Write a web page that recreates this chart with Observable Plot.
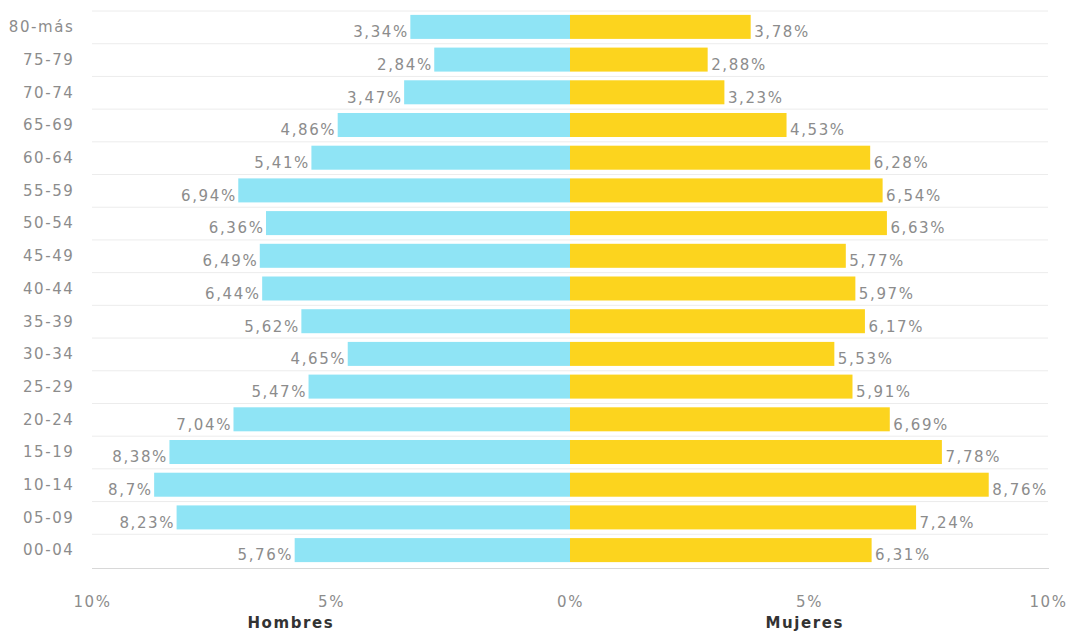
<!DOCTYPE html>
<html>
<head>
<meta charset="utf-8">
<script src="https://cdn.jsdelivr.net/npm/d3@7"></script>
<script src="https://cdn.jsdelivr.net/npm/@observablehq/plot@0.6"></script>
<style>
  html, body { margin: 0; padding: 0; background: #fff; }
</style>
</head>
<body>
<div id="chart"></div>
<script>
const ages = ["80-más","75-79","70-74","65-69","60-64","55-59","50-54","45-49","40-44","35-39","30-34","25-29","20-24","15-19","10-14","05-09","00-04"];
const hombres = [3.34, 2.84, 3.47, 4.86, 5.41, 6.94, 6.36, 6.49, 6.44, 5.62, 4.65, 5.47, 7.04, 8.38, 8.7, 8.23, 5.76];
const mujeres = [3.78, 2.88, 3.23, 4.53, 6.28, 6.54, 6.63, 5.77, 5.97, 6.17, 5.53, 5.91, 6.69, 7.78, 8.76, 7.24, 6.31];
const xTicks = [-10, -5, 0, 5, 10];
const sexLabels = [{label: "Hombres", x: -5.85}, {label: "Mujeres", x: 4.9}];

const male = ages.map((a, i) => ({age: a, v: hombres[i]}));
const female = ages.map((a, i) => ({age: a, v: mujeres[i]}));
const fmt = v => String(v).replace(".", ",") + "%";

const font = "DejaVu Sans, Verdana, sans-serif";
const txt = "#8c8c8c";

const chart = Plot.plot({
  width: 1068,
  height: 631,
  marginLeft: 92,
  marginRight: 20,
  marginTop: 9,
  marginBottom: 63,
  style: {fontFamily: font, fontSize: "15px", color: txt, background: "#fff", letterSpacing: "1.6px"},
  x: {domain: [-10, 10]},
  y: {domain: ages, paddingInner: 0.266, paddingOuter: 0.18, round: false},
  marks: [
    Plot.gridY({stroke: "#ececec", strokeOpacity: 1, dy: -16.35}),
    Plot.frame({anchor: "bottom", stroke: "#d8d8d8"}),
    Plot.barX(male, {y: "age", x1: 0, x2: d => -d.v, fill: "#8fe4f5"}),
    Plot.barX(female, {y: "age", x1: 0, x2: "v", fill: "#fcd41e"}),
    Plot.text(male, {y: "age", x: d => -d.v, text: d => fmt(d.v), textAnchor: "end", dx: -2, dy: 5, fill: txt, fontSize: 15}),
    Plot.text(female, {y: "age", x: "v", text: d => fmt(d.v), textAnchor: "start", dx: 3, dy: 5, fill: txt, fontSize: 15}),
    Plot.axisY({tickSize: 0, tickPadding: 18, fontSize: 15, fill: txt, label: null}),
    Plot.axisX({ticks: xTicks, tickSize: 0, tickPadding: 28, tickFormat: d => Math.abs(d) + "%", fontSize: 15, fill: txt, label: null}),
    Plot.text(sexLabels, {x: "x", text: "label", frameAnchor: "bottom", lineAnchor: "bottom", dy: 59, fontWeight: "bold", fontSize: 15, fill: "#333"})
  ]
});
document.getElementById("chart").append(chart);
</script>
</body>
</html>
